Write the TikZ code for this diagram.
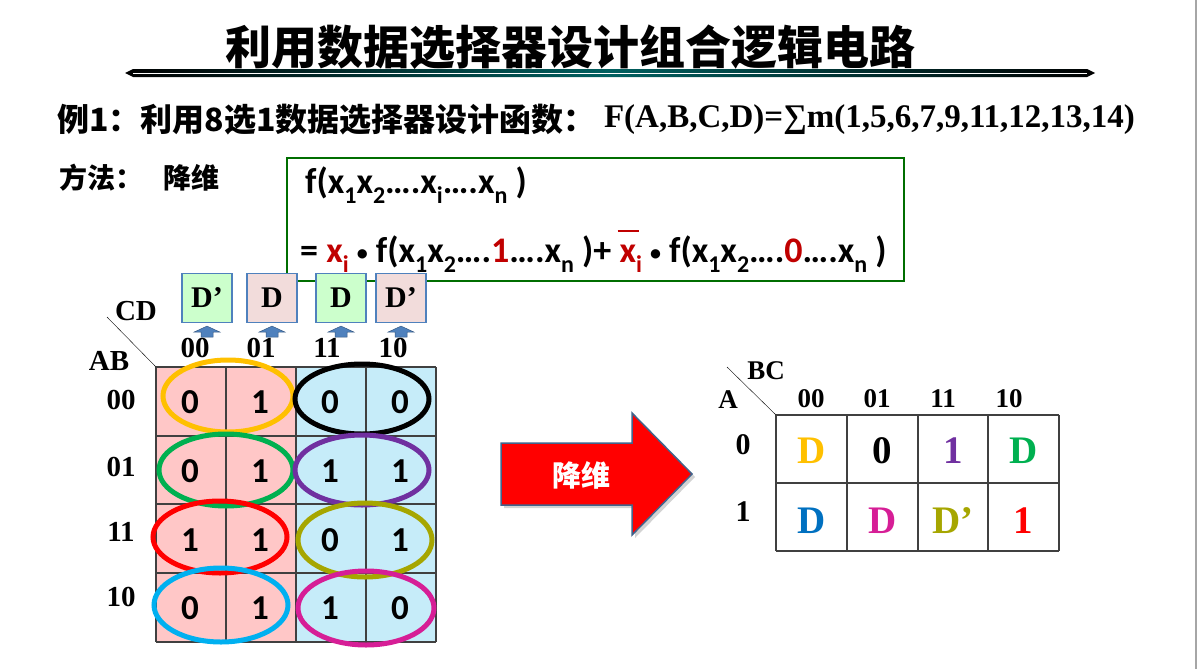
\documentclass[tikz,border=0pt]{standalone}
\usepackage{fontspec}
\setmainfont{Liberation Serif}
\newfontfamily\cjk{Noto Sans CJK SC}
\newfontfamily\calib{Carlito}
\usetikzlibrary{shadows}

\definecolor{cellpink}{RGB}{255,199,199}
\definecolor{cellblue}{RGB}{198,236,249}
\definecolor{dgreen}{RGB}{204,255,204}
\definecolor{dpink}{RGB}{242,220,219}
\definecolor{boxblue}{RGB}{79,129,189}
\definecolor{boxgreen}{RGB}{0,110,0}
\definecolor{xred}{RGB}{192,0,0}
\definecolor{cgold}{RGB}{255,192,0}
\definecolor{cgreen}{RGB}{0,176,80}
\definecolor{cpurple}{RGB}{112,48,160}
\definecolor{colive}{RGB}{166,166,0}
\definecolor{ccyan}{RGB}{0,176,240}
\definecolor{cblue}{RGB}{0,112,192}
\definecolor{cmag}{RGB}{214,30,150}
\definecolor{arrowedge}{RGB}{65,100,140}

\newcommand\lowix[1]{\raisebox{-0.3em}{\fontsize{24}{24}\selectfont #1}}
\newcommand\dotop{\raisebox{0.05em}{\fontsize{22}{22}\selectfont •}}
\newcommand\barx{\rlap{\hspace{-0.05em}\rule[0.82em]{0.6em}{0.07em}}x}

\begin{document}
\begin{tikzpicture}[x=1pt,y=-1pt,
	every node/.style={inner sep=0pt},
	title/.style={font=\cjk\bfseries\fontsize{46}{50}\selectfont},
	cjkbig/.style={font=\cjk\bfseries\fontsize{32}{36}\selectfont},
	cjkmid/.style={font=\cjk\bfseries\fontsize{28}{32}\selectfont},
	formula/.style={font=\bfseries\fontsize{33}{36}\selectfont},
	eqline/.style={font=\calib\bfseries\fontsize{36}{40}\selectfont, anchor=base west},
	dbox/.style={draw=boxblue, line width=1.2, minimum width=50, minimum height=49, font=\bfseries\fontsize{30}{30}\selectfont},
	uparrow/.style={fill=boxblue, draw=boxblue!70!black, line width=0.5},
	lab/.style={font=\bfseries\fontsize{29}{29}\selectfont},
	cellnum/.style={font=\calib\bfseries\fontsize{35}{35}\selectfont},
	bigentry/.style={font=\bfseries\fontsize{39}{39}\selectfont},
	gridline/.style={draw=black!75, line width=1.5},
	ring/.style={line width=5}]
	\useasboundingbox (0,0) rectangle (1198,669);
	\draw[black!35, line width=1.5] (1196,0) -- (1196,669);

	% title and bar
	\node[title] (title) at (570,47) {利用数据选择器设计组合逻辑电路};
	\shade[left color=black, right color=black, middle color=teal!75!black] (125,73) -- (133,69) -- (1087,69) -- (1095,73) -- (1087,77) -- (133,77) -- cycle;
	\draw[white, line width=0.8] (133,73) -- (1087,73);

	% example line
	\node[cjkbig, anchor=west] (ex) at (57,120) {例1：利用8选1数据选择器设计函数：};
	\node[formula, anchor=west] (fx) at ([xshift=8pt]ex.east) {F(A,B,C,D)=∑m(1,5,6,7,9,11,12,13,14)};
	\node[cjkmid, anchor=west] (method) at (59,178) {方法：\hspace{20pt}降维};

	% expansion box
	\node[draw=boxgreen, line width=2, minimum width=617, minimum height=123, anchor=north west] (fbox) at (286,157) {};
	\node[eqline] (eq1) at (305,193) {f(x\lowix{1}x\lowix{2}….x\lowix{i}….x\lowix{n} )};
	\node[eqline] (eq2) at (300,262) {= \textcolor{xred}{x\lowix{i}} \dotop{} f(x\lowix{1}x\lowix{2}….\textcolor{xred}{1}….x\lowix{n} )+ \textcolor{xred}{\barx\lowix{i}} \dotop{} f(x\lowix{1}x\lowix{2}….\textcolor{xred}{0}….x\lowix{n} )};

	% D boxes over the columns
	\node[dbox, fill=dgreen] (d1) at (207,298) {D’};
	\node[dbox, fill=dpink] (d2) at (272,298) {D};
	\node[dbox, fill=dgreen] (d3) at (341,298) {D};
	\node[dbox, fill=dpink] (d4) at (401,298) {D’};
	\foreach \i in {1,...,4}
		\filldraw[uparrow] ([yshift=-3pt]d\i.south) -- ++(13,6) -- ++(-7,0) -- ++(0,5) -- ++(-12,0) -- ++(0,-5) -- ++(-7,0) -- cycle;

	% left K-map
	\fill[cellpink] (156,367) rectangle (296,642);
	\fill[cellblue] (296,367) rectangle (436,642);
	\foreach \x in {156,226,296,366,436}
		\draw[gridline] (\x,367) -- (\x,642);
	\foreach \y in {367,436,504,573,642}
		\draw[gridline] (156,\y) -- (436,\y);
	\node[lab] (cd) at (136,311) {CD};
	\node[lab] (ab) at (109,361) {AB};
	\coordinate (kl) at (107,317);
	\coordinate (kc) at (156,367);
	\draw (kl) -- (kc);
	\foreach \t [count=\c from 0] in {00,01,11,10}
		\node[lab] (tc\c) at ({195+66*\c},348) {\t};
	\foreach \t/\y [count=\r] in {00/400,01/467,11/532,10/597}
		\node[lab] (lr\r) at (121,\y) {\t};
	\foreach \vals/\y [count=\r from 0] in {{0,1,0,0}/402,{0,1,1,1}/471,{1,1,0,1}/540,{0,1,1,0}/608}
		\foreach \v [count=\c from 0] in \vals
			\node[cellnum] (k\r\c) at ({190+70*\c},\y) {\v};

	% groups of two cells
	\draw[ring, cgold] (228,396) ellipse [x radius=65, y radius=36];
	\draw[ring, black] (362,399) ellipse [x radius=67, y radius=35];
	\draw[ring, cgreen] (226,470) ellipse [x radius=67, y radius=36];
	\draw[ring, cpurple] (362,470) ellipse [x radius=67, y radius=35];
	\draw[ring, red] (220,537) ellipse [x radius=67, y radius=36];
	\draw[ring, colive] (365,540) ellipse [x radius=67, y radius=37];
	\draw[ring, ccyan] (221,605) ellipse [x radius=67, y radius=37];
	\draw[ring, cmag] (366,608) ellipse [x radius=68, y radius=37];

	% big arrow
	\filldraw[fill=red, draw=arrowedge, line width=1.5, drop shadow={opacity=0.35, shadow xshift=3pt, shadow yshift=-3pt}]
		(501,443) -- (632,443) -- (632,413) -- (692,474) -- (632,535) -- (632,505) -- (501,505) -- cycle;
	\node[cjkmid, text=white, font=\cjk\bfseries\fontsize{29}{30}\selectfont] (jw) at (581,475) {降维};

	% right K-map
	\foreach \x in {776,847,918,988,1059}
		\draw[gridline] (\x,415) -- (\x,551);
	\foreach \y in {415,483,551}
		\draw[gridline] (776,\y) -- (1059,\y);
	\node[lab, font=\bfseries\fontsize{27}{27}\selectfont] (bc) at (766,371) {BC};
	\node[lab, font=\bfseries\fontsize{27}{27}\selectfont] (a) at (728,400) {A};
	\coordinate (rl) at (727,367);
	\coordinate (rc) at (776,415);
	\draw (rl) -- (rc);
	\foreach \t/\x [count=\c from 0] in {00/811,01/877,11/943,10/1009}
		\node[lab, font=\bfseries\fontsize{27}{27}\selectfont] (rt\c) at (\x,399) {\t};
	\node[lab, font=\bfseries\fontsize{30}{30}\selectfont] (rr0) at (743,445) {0};
	\node[lab, font=\bfseries\fontsize{30}{30}\selectfont] (rr1) at (743,512) {1};
	\foreach \t/\col [count=\c from 0] in {D/cgold,0/black,1/cpurple,D/cgreen}
		\node[bigentry, text=\col] (m0\c) at ({811.5+70.7*\c},451) {\t};
	\foreach \t/\col [count=\c from 0] in {D/cblue,D/cmag,D’/colive,1/red}
		\node[bigentry, text=\col] (m1\c) at ({811.5+70.7*\c},521) {\t};
\end{tikzpicture}
\end{document}
